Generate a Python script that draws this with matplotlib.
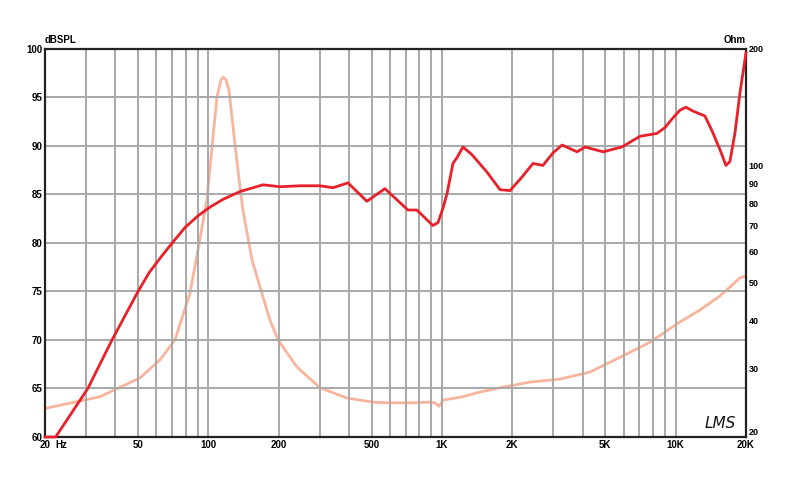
import numpy as np
import matplotlib.pyplot as plt
from matplotlib.ticker import FixedLocator, NullFormatter, NullLocator

plt.rcParams['font.family'] = ['Liberation Sans', 'DejaVu Sans']

# SPL response (red), Hz / dB
spl_freq = [20, 22.2, 30.5, 38.7, 44, 50, 56, 63.4, 70.6, 79.5, 90.3, 101.7, 115.6, 136.6,
            171.4, 202.6, 247, 300, 342, 396, 477, 570, 715, 781, 914, 961, 1010, 1051, 1114,
            1159, 1230, 1344, 1559, 1771, 1955, 2200, 2452, 2705, 2987, 3265, 3785, 4096,
            4889, 5891, 7036, 8318, 9000, 9740, 10440, 11070, 11860, 12710, 13340, 14290,
            15490, 16410, 17070, 17930, 18850, 20000]
spl_db = [60, 60, 65, 70, 72.5, 75, 77.0, 78.7, 80.1, 81.6, 82.8, 83.7, 84.5, 85.3,
          86.0, 85.8, 85.9, 85.9, 85.7, 86.2, 84.3, 85.6, 83.4, 83.4, 81.8, 82.1, 83.6, 85.1,
          88.2, 88.8, 89.9, 89.1, 87.3, 85.5, 85.4, 86.8, 88.2, 88.0, 89.3, 90.1, 89.4, 89.9,
          89.4, 89.9, 91.0, 91.3, 91.9, 92.9, 93.7, 94.0, 93.6, 93.3, 93.1, 91.6,
          89.6, 88.0, 88.4, 91.3, 95.5, 99.6]

# impedance (salmon), Hz / Ohm
imp_freq = [20, 34.4, 51, 62.1, 72, 83.5, 90.3, 98.6, 103.7, 108.9, 113.3, 115.6, 119.0,
            122.6, 127.6, 133.9, 140.6, 153.8, 166.4, 183.6, 198.6, 239.6, 300, 392, 506.6,
            598.6, 751, 889, 933, 970, 1010, 1230, 1412, 1772, 2380, 3198, 4297, 5780, 7760,
            10440, 12710, 15490, 18850, 20000]
imp_ohm = [23.7, 25.4, 28.4, 31.6, 35.6, 47.0, 60.7, 81.6, 111.8, 150.4, 166.4, 169.4, 166.4,
           156.8, 125.9, 97.5, 76.9, 57.2, 48.7, 40.0, 35.6, 30.3, 26.8, 25.2, 24.6,
           24.5, 24.5, 24.6, 24.5, 24.0, 24.9, 25.4, 26.0, 26.8, 27.7, 28.2, 29.4, 32.1, 35.1,
           39.6, 42.5, 46.2, 51.4, 52.0]

x_labels = {20: '20', 50: '50', 100: '100', 200: '200', 500: '500', 1000: '1K',
            2000: '2K', 5000: '5K', 10000: '10K', 20000: '20K'}
ohm_ticks = [20, 30, 40, 50, 60, 70, 80, 90, 100, 200]

fig = plt.figure(figsize=(8, 4.84), dpi=100)
ax = fig.add_axes([45/800, 47/484, 701/800, 388/484])
ax.set_xscale('log')
ax.set_xlim(20, 20000)
ax.set_ylim(60, 100)

grid_f = [m * 10**e for e in range(1, 5) for m in range(1, 10) if 20 <= m * 10**e <= 20000]
for f in grid_f:
    ax.axvline(f, color='#a8a8a8', lw=1.4, zorder=1)
for d in range(65, 100, 5):
    ax.axhline(d, color='#a8a8a8', lw=1.4, zorder=1)

ax.xaxis.set_major_locator(FixedLocator(list(x_labels.keys())))
ax.set_xticklabels(list(x_labels.values()))
ax.xaxis.set_minor_locator(NullLocator())
ax.xaxis.set_minor_formatter(NullFormatter())
ax.set_yticks(range(60, 101, 5))
ax.tick_params(length=0, labelsize=7, pad=2)
for lab in ax.get_xticklabels() + ax.get_yticklabels():
    lab.set_fontweight('bold')
ax.text(0.015, -0.0075, 'Hz', transform=ax.transAxes, fontsize=7, fontweight='bold',
        va='top', ha='left')
ax.text(0.0, 1.01, 'dBSPL', transform=ax.transAxes, fontsize=7, fontweight='bold',
        va='bottom', ha='left')

for s in ax.spines.values():
    s.set_linewidth(1.6)
    s.set_color('#222222')

ax2 = ax.twinx()
ax2.set_yscale('log')
ax2.set_ylim(20, 200)
ax2.yaxis.set_major_locator(FixedLocator(ohm_ticks))
ax2.set_yticklabels([str(t) for t in ohm_ticks])
ax2.yaxis.set_minor_locator(NullLocator())
ax2.yaxis.set_minor_formatter(NullFormatter())
ax2.tick_params(length=0, labelsize=6.5, pad=2)
for lab in ax2.get_yticklabels():
    lab.set_fontweight('bold')
ax2.get_yticklabels()[0].set_va('bottom')
ax2.text(1.0, 1.01, 'Ohm', transform=ax2.transAxes, fontsize=7, fontweight='bold',
         va='bottom', ha='right')
for s in ax2.spines.values():
    s.set_visible(False)

ax2.plot(imp_freq, imp_ohm, color='#f8b49c', lw=2, zorder=3, solid_joinstyle='round')
ax.set_zorder(ax2.get_zorder() + 1)
ax.patch.set_visible(False)
ax.plot(spl_freq, spl_db, color='#e8202a', lw=2, zorder=4, solid_joinstyle='round',
        clip_on=False)

ax.text(0.963, 0.036, 'LMS', transform=ax.transAxes, fontsize=11, fontstyle='italic',
        fontfamily='DejaVu Sans', fontweight='light', ha='center', va='center', color='#111111')

fig.savefig('out.png', dpi=100, facecolor='white')
